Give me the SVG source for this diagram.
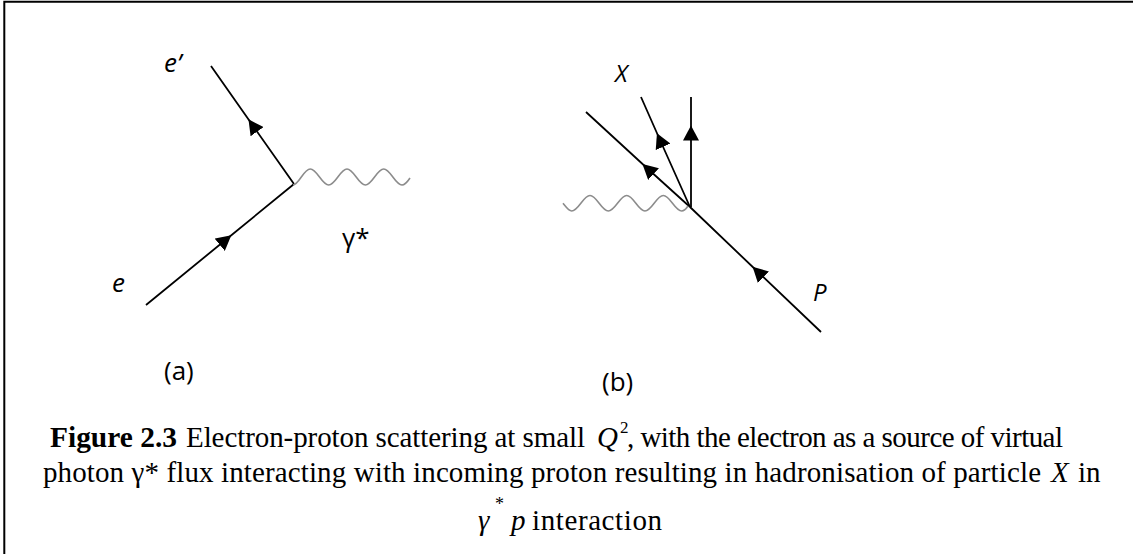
<svg xmlns="http://www.w3.org/2000/svg" width="1133" height="554" viewBox="0 0 1133 554">
<style>
.ln{fill:none;stroke:#000;stroke-width:1.8}
.wv{fill:none;stroke:#8c8c8c;stroke-width:1.6}
.lbl{font-family:"Open Sans","Noto Sans",sans-serif;fill:#000}
.it{font-style:italic}
.cap{font-family:"Liberation Serif","Times New Roman",serif;font-size:29px;fill:#000}
.sup{font-size:17px}
.star{font-size:18px}
</style>
<defs>
<marker id="arr" markerUnits="userSpaceOnUse" markerWidth="15" markerHeight="16" refX="7.5" refY="8" orient="auto" viewBox="0 0 15 16">
<path d="M0,0 L15,8 L0,16 z" fill="#000"/>
</marker>
</defs>
<path d="M4.3,554 L4.3,1.8 L1133,1.8" fill="none" stroke="#000" stroke-width="2"/>
<g id="connectors">
<path class="ln" d="M294,184 L252.8,125.5 L211,66" marker-mid="url(#arr)"/>
<path class="ln" d="M146,305 L225.5,240 L294,184" marker-mid="url(#arr)"/>
<path class="wv" d="M293,185 C298.7,185 303.6,169 310.3,169 C317,169 322,185 328.7,185 C335.4,185 340.3,169 347,169 C353.7,169 358.7,185 365.4,185 C372.1,185 377,169 383.7,169 C390.4,169 395.3,185 402,185 C405,185 408,181 410,178"/>
<path class="ln" d="M821,332 L758,272 L690,207" marker-mid="url(#arr)"/>
<path class="ln" d="M690,207 L648,169 L586,112" marker-mid="url(#arr)"/>
<path class="ln" d="M690,207 L660,140 L641,97" marker-mid="url(#arr)"/>
<path class="ln" d="M691,207 L691,133 L691,97" marker-mid="url(#arr)"/>
<path class="wv" d="M563,203.3 C566,207 568.5,211 571.7,211 C578.4,211 583.3,195.5 590,195.5 C596.7,195.5 601.6,211 608.3,211 C615,211 620,195.5 626.7,195.5 C633.4,195.5 638.3,211 645,211 C651.7,211 656.6,195.5 663.3,195.5 C670,195.5 675,211 681.7,211 C684,211 686,209 688,206"/>
</g>
<g id="label-eprime"><text class="lbl it" x="164" y="72" font-size="26">e’</text></g>
<g id="label-e"><text class="lbl it" x="112" y="292" font-size="26">e</text></g>
<g id="label-gamma"><text class="lbl" x="342" y="247" font-size="26">γ*</text></g>
<g id="label-X"><text class="lbl it" x="615" y="82" font-size="24">X</text></g>
<g id="label-P"><text class="lbl it" x="813" y="301" font-size="24">P</text></g>
<g id="label-a"><text class="lbl" x="164" y="380" font-size="26">(a)</text></g>
<g id="label-b"><text class="lbl" x="602" y="391" font-size="26">(b)</text></g>
<g id="caption">
<text class="cap" x="50" y="447" font-weight="bold" textLength="127" lengthAdjust="spacingAndGlyphs">Figure 2.3</text>
<text class="cap" x="186" y="447" textLength="399" lengthAdjust="spacing">Electron-proton scattering at small</text>
<text class="cap" x="597" y="447" font-style="italic">Q</text>
<text class="cap sup" x="620" y="433">2</text>
<text class="cap" x="627" y="447" textLength="436" lengthAdjust="spacing">, with the electron as a source of virtual</text>
<text class="cap" x="43" y="482" textLength="998" lengthAdjust="spacing">photon γ* flux interacting with incoming proton resulting in hadronisation of particle</text>
<text class="cap" x="1051" y="482" font-style="italic">X</text>
<text class="cap" x="1078" y="482">in</text>
<text class="cap" x="478" y="530" font-style="italic">γ</text>
<text class="cap star" x="495" y="510">*</text>
<text class="cap" x="511" y="530" font-style="italic">p</text>
<text class="cap" x="532" y="530" textLength="130" lengthAdjust="spacing">interaction</text>
</g>
</svg>
